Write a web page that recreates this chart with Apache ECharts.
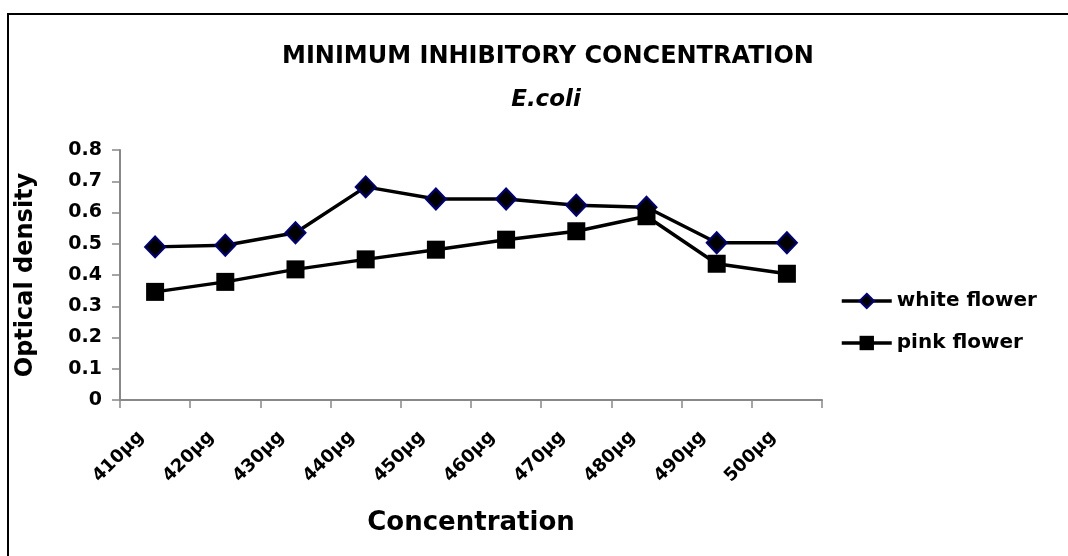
<!DOCTYPE html>
<html>
<head>
<meta charset="utf-8">
<script src="https://cdn.jsdelivr.net/npm/echarts@6/dist/echarts.min.js"></script>
<style>
  html, body { margin: 0; padding: 0; background: #fff; }
  #frame { position: absolute; left: 7px; top: 13px; width: 1080px; height: 560px; border: 2px solid #000; box-sizing: border-box; }
  #chart { position: absolute; left: 0; top: 0; width: 1068px; height: 556px; }
</style>
</head>
<body>
<div id="frame"></div>
<div id="chart"></div>
<script>
// values
var categories = ["410µg", "420µg", "430µg", "440µg", "450µg", "460µg", "470µg", "480µg", "490µg", "500µg"];
var whiteFlower = [0.49, 0.495, 0.535, 0.682, 0.643, 0.643, 0.623, 0.617, 0.503, 0.503];
var pinkFlower = [0.346, 0.378, 0.418, 0.45, 0.481, 0.513, 0.54, 0.588, 0.436, 0.404];
var yTicks = [0, 0.1, 0.2, 0.3, 0.4, 0.5, 0.6, 0.7, 0.8];

var font = "'DejaVu Sans', sans-serif";
var chart = echarts.init(document.getElementById("chart"));

var option = {
  animation: false,
  title: [
    {
      text: "MINIMUM INHIBITORY CONCENTRATION",
      left: 543,
      top: 40,
      textAlign: "center",
      textStyle: { fontFamily: font, fontSize: 24, fontWeight: "bold", color: "#000" }
    },
    {
      text: "E.coli",
      left: 541,
      top: 84,
      textAlign: "center",
      textStyle: { fontFamily: font, fontSize: 23, fontWeight: "bold", fontStyle: "italic", color: "#000" }
    }
  ],
  legend: {
    orient: "vertical",
    left: 835,
    top: 286,
    itemGap: 22,
    itemWidth: 50,
    itemHeight: 18,
    data: ["white flower", "pink flower"],
    lineStyle: { width: 3.5 },
    textStyle: { fontFamily: font, fontSize: 20, fontWeight: "bold", color: "#000" }
  },
  grid: { left: 120, right: 246, top: 150, bottom: 156 },
  xAxis: {
    type: "category",
    data: categories,
    boundaryGap: true,
    name: "Concentration",
    nameLocation: "middle",
    nameGap: 110,
    nameTextStyle: { fontFamily: font, fontSize: 26, fontWeight: "bold", color: "#000" },
    axisLine: { lineStyle: { color: "#888", width: 2 } },
    axisTick: { show: true, alignWithLabel: false, length: 8, lineStyle: { color: "#888", width: 1.5 } },
    axisLabel: { rotate: 45, interval: 0, margin: 20, padding: [0, 20, 0, 0], fontFamily: font, fontSize: 18, fontWeight: "bold", color: "#000" },
    splitLine: { show: false }
  },
  yAxis: {
    type: "value",
    min: 0,
    max: 0.8,
    interval: 0.1,
    name: "Optical density",
    nameLocation: "middle",
    nameGap: 82,
    nameTextStyle: { fontFamily: font, fontSize: 24, fontWeight: "bold", color: "#000" },
    axisLine: { show: true, lineStyle: { color: "#888", width: 2 } },
    axisTick: { show: true, length: 8, lineStyle: { color: "#888", width: 1.5 } },
    axisLabel: {
      margin: 18,
      fontFamily: font,
      fontSize: 19,
      fontWeight: "bold",
      color: "#000",
      formatter: function (v) {
        var t = yTicks.find(function (k) { return Math.abs(k - v) < 1e-6; });
        return t === undefined ? "" : String(t);
      }
    },
    splitLine: { show: false }
  },
  series: [
    {
      name: "white flower",
      type: "line",
      data: whiteFlower,
      symbol: "diamond",
      symbolSize: [20, 21],
      itemStyle: { color: "#000", borderColor: "#000080", borderWidth: 2 },
      lineStyle: { color: "#000", width: 3.5 }
    },
    {
      name: "pink flower",
      type: "line",
      data: pinkFlower,
      symbol: "rect",
      symbolSize: 18,
      itemStyle: { color: "#000", borderColor: "#000", borderWidth: 0 },
      lineStyle: { color: "#000", width: 3.5 }
    }
  ]
};

chart.setOption(option);
</script>
</body>
</html>
